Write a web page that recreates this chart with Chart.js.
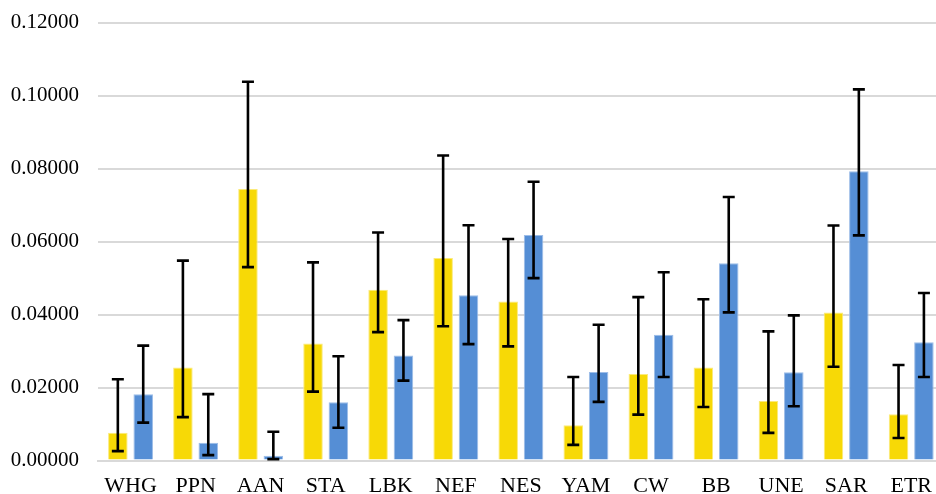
<!DOCTYPE html>
<html>
<head>
<meta charset="utf-8">
<script src="https://cdn.jsdelivr.net/npm/chart.js@4/dist/chart.umd.min.js"></script>
<style>
  html, body { margin: 0; padding: 0; background: #fff; overflow: hidden; }
  #wrap { position: absolute; left: 0; top: -9px; width: 944px; height: 520px; }
</style>
</head>
<body>
<div id="wrap"><canvas id="chart" width="944" height="520"></canvas></div>
<script>
'use strict';

var groups = ['WHG', 'PPN', 'AAN', 'STA', 'LBK', 'NEF', 'NES', 'YAM', 'CW', 'BB', 'UNE', 'SAR', 'ETR'];

// yellow series: value, lower and upper end of the error bar
var yellowValues = [0.0076, 0.0255, 0.0744, 0.0321, 0.0468, 0.0555, 0.0436, 0.0097, 0.0237, 0.0255, 0.0163, 0.0406, 0.0127];
var yellowLow    = [0.0026, 0.0119, 0.0530, 0.0189, 0.0352, 0.0368, 0.0313, 0.0043, 0.0126, 0.0147, 0.0076, 0.0257, 0.0062];
var yellowHigh   = [0.0223, 0.0548, 0.1038, 0.0543, 0.0625, 0.0836, 0.0607, 0.0229, 0.0448, 0.0442, 0.0354, 0.0644, 0.0262];

// blue series
var blueValues = [0.0182, 0.0049, 0.0013, 0.0160, 0.0288, 0.0453, 0.0618, 0.0243, 0.0345, 0.0541, 0.0242, 0.0793, 0.0324];
var blueLow    = [0.0104, 0.0015, 0.0004, 0.0090, 0.0219, 0.0319, 0.0500, 0.0161, 0.0229, 0.0406, 0.0149, 0.0617, 0.0229];
var blueHigh   = [0.0315, 0.0182, 0.0079, 0.0286, 0.0385, 0.0645, 0.0764, 0.0372, 0.0516, 0.0722, 0.0398, 0.1017, 0.0459];

var yTicks = [0, 0.02, 0.04, 0.06, 0.08, 0.10, 0.12];

var errorBars = {
  id: 'errorBars',
  afterDatasetsDraw: function(chart) {
    var ctx = chart.ctx;
    var yScale = chart.scales.y;
    ctx.save();
    ctx.strokeStyle = '#000';
    ctx.lineWidth = 2.6;
    chart.data.datasets.forEach(function(ds, di) {
      var meta = chart.getDatasetMeta(di);
      meta.data.forEach(function(bar, i) {
        var x = bar.x;
        var yLo = yScale.getPixelForValue(ds.errLow[i]);
        var yHi = yScale.getPixelForValue(ds.errHigh[i]);
        ctx.beginPath();
        ctx.moveTo(x, yLo);
        ctx.lineTo(x, yHi);
        ctx.moveTo(x - 6, yLo);
        ctx.lineTo(x + 6, yLo);
        ctx.moveTo(x - 6, yHi);
        ctx.lineTo(x + 6, yHi);
        ctx.stroke();
      });
    });
    ctx.restore();
  }
};

var ctx = document.getElementById('chart').getContext('2d');

var myChart = new Chart(ctx, {
  type: 'bar',
  data: {
    labels: groups,
    datasets: [{
      label: 'yellow',
      data: yellowValues,
      errLow: yellowLow,
      errHigh: yellowHigh,
      backgroundColor: '#F7D906',
      borderColor: '#FBEA7A',
      borderWidth: 1,
      categoryPercentage: 0.78,
      barPercentage: 0.77
    }, {
      label: 'blue',
      data: blueValues,
      errLow: blueLow,
      errHigh: blueHigh,
      backgroundColor: '#558ED5',
      borderColor: '#9DBDE8',
      borderWidth: 1,
      categoryPercentage: 0.78,
      barPercentage: 0.77
    }]
  },
  options: {
    responsive: false,
    animation: false,
    layout: { padding: { left: 11, top: 1, right: 0, bottom: 0 } },
    plugins: {
      legend: { display: false },
      tooltip: { enabled: false }
    },
    scales: {
      x: {
        grid: { display: false, drawTicks: false },
        border: { display: true, color: '#D9D9D9', width: 2 },
        ticks: {
          color: '#000',
          padding: 12,
          maxRotation: 0,
          autoSkip: false,
          font: { family: 'Liberation Serif', size: 22 }
        }
      },
      y: {
        min: 0,
        max: 0.12,
        afterBuildTicks: function(axis) {
          axis.ticks = yTicks.map(function(v) { return { value: v }; });
        },
        afterFit: function(axis) {
          axis.width = 87;
        },
        grid: { color: '#D9D9D9', lineWidth: 2, drawTicks: false },
        border: { display: false },
        ticks: {
          color: '#000',
          padding: 19,
          font: { family: 'Liberation Serif', size: 21 },
          callback: function(value) { return Number(value).toFixed(5); }
        }
      }
    }
  },
  plugins: [errorBars]
});
</script>
</body>
</html>
